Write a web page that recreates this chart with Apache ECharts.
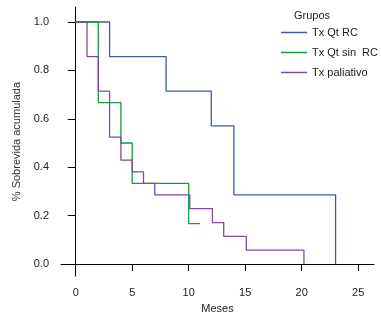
<!DOCTYPE html>
<html>
<head>
<meta charset="utf-8">
<script src="https://cdn.jsdelivr.net/npm/echarts@6/dist/echarts.min.js"></script>
<style>
html, body { margin: 0; padding: 0; background: #fff; }
#chart { width: 381px; height: 319px; }
</style>
</head>
<body>
<div id="chart"></div>
<script>
// grupos
var groupNames = ["Tx Qt RC", "Tx Qt sin  RC", "Tx paliativo"];
var groupColors = ["#3C5DA6", "#179A3C", "#7E4CA6"];

// tiempos (meses) y sobrevida acumulada de cada grupo
var rcMeses = [0, 3, 8, 12, 14, 23];
var rcSobrevida = [1, 0.857, 0.714, 0.571, 0.286, 0];

var sinRcMeses = [0, 2, 4, 5, 10, 11];
var sinRcSobrevida = [1, 0.667, 0.5, 0.333, 0.167, 0.167];

var paliativoMeses = [0, 1, 2, 3, 4, 5, 6, 7, 10.1, 12.1, 13.1, 15.1, 20.2];
var paliativoSobrevida = [1, 0.857, 0.714, 0.524, 0.429, 0.381, 0.333, 0.286, 0.229, 0.171, 0.114, 0.057, 0];

var xTicks = [0, 5, 10, 15, 20, 25];
var yTicks = [0, 0.2, 0.4, 0.6, 0.8, 1.0];

function pares(xs, ys) {
	return xs.map(function (x, i) { return [x, ys[i]]; });
}

var datos = [
	pares(rcMeses, rcSobrevida),
	pares(sinRcMeses, sinRcSobrevida),
	pares(paliativoMeses, paliativoSobrevida)
];

var font = "Liberation Sans, Arial, sans-serif";
var chart = echarts.init(document.getElementById("chart"), null, { renderer: "canvas" });

var option = {
	animation: false,
	title: {
		text: "Grupos",
		left: 289,
		top: 5,
		textStyle: { fontSize: 11, fontWeight: "normal", color: "#222", fontFamily: font }
	},
	legend: {
		orient: "vertical",
		left: 276,
		top: 22,
		icon: "rect",
		itemWidth: 26,
		itemHeight: 1.5,
		itemGap: 9,
		data: groupNames,
		textStyle: { fontSize: 11, color: "#222", fontFamily: font }
	},
	grid: { left: 61, right: 7, top: 7, bottom: 38 },
	xAxis: {
		type: "value",
		min: -1.3,
		max: 26.4,
		name: "Meses",
		nameLocation: "middle",
		nameGap: 26,
		nameTextStyle: { fontSize: 11, color: "#222", fontFamily: font },
		axisLine: { lineStyle: { color: "#000", width: 1 } },
		axisTick: { length: 7, lineStyle: { color: "#000" }, customValues: xTicks },
		axisLabel: { margin: 11, fontSize: 11, color: "#222", fontFamily: font, customValues: xTicks },
		splitLine: { show: false }
	},
	yAxis: {
		type: "value",
		min: -0.05,
		max: 1.062,
		name: "% Sobrevida acumulada",
		nameLocation: "middle",
		nameGap: 36,
		nameTextStyle: { fontSize: 11, color: "#333", fontFamily: font },
		axisLine: { show: true, lineStyle: { color: "#000", width: 1 } },
		axisTick: { show: true, length: 8, lineStyle: { color: "#000" }, customValues: yTicks },
		axisLabel: {
			margin: 12, fontSize: 11, color: "#222", fontFamily: font, customValues: yTicks,
			formatter: function (v) { return v.toFixed(1); }
		},
		splitLine: { show: false }
	},
	series: groupNames.map(function (n, i) {
		return {
			name: n,
			type: "line",
			step: "end",
			symbol: "none",
			data: datos[i],
			color: groupColors[i],
			lineStyle: { width: 1.3, color: groupColors[i] }
		};
	})
};
chart.setOption(option);
</script>
</body>
</html>
